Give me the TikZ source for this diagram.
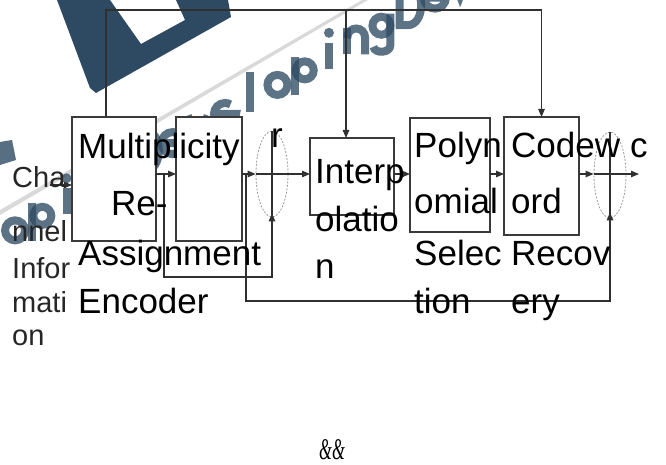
\documentclass[tikz,border=0pt]{standalone}
\usepackage{fontspec}
\setmainfont{Liberation Sans}
\newfontfamily\amperfont{Liberation Serif}
\usetikzlibrary{shapes.geometric,arrows.meta}
\definecolor{ln}{HTML}{303030}
\definecolor{bx}{HTML}{3A3A3A}
\definecolor{wm}{HTML}{2E4A63}
\definecolor{el}{HTML}{9A9A9A}
\tikzset{
  wmstroke/.style={draw=wm,line width=8pt,opacity=0.78},
  wlE/.pic={\draw[wmstroke] (3,-13) -- (24,-13) arc[start angle=0,end angle=300,radius=11];},
  wlL/.pic={\draw[wmstroke] (12,0) -- (12,-40);},
  wlO/.pic={\draw[wmstroke] (13,-13) circle[radius=10];},
  wlP/.pic={\draw[wmstroke] (4,12) -- (4,-26); \draw[wmstroke] (14,-13) circle[radius=9];},
  wlI/.pic={\draw[wmstroke] (12,0) -- (12,-26); \fill[wm,opacity=0.78] (12,-36) circle[radius=5];},
  wlN/.pic={\draw[wmstroke] (4,0) -- (4,-26); \draw[wmstroke] (4,-16) .. controls (4,-29) and (22,-29) .. (22,-16) -- (22,0);},
  wlG/.pic={\draw[wmstroke] (12,-14) circle[radius=9]; \draw[wmstroke] (21,-26) -- (21,5) .. controls (21,14) and (5,14) .. (4,7);},
  wlV/.pic={\draw[wmstroke] (2,-26) -- (12,0) -- (22,-26);},
  wlD/.pic={\draw[wmstroke] (4,0) -- (4,-40) -- (12,-40) .. controls (30,-40) and (30,0) .. (12,0) -- cycle;},
}
\begin{document}
\begin{tikzpicture}[x=1pt,y=-1pt,
  box/.style={draw=bx,fill=white,line width=1.3pt,anchor=north west,inner sep=0pt,outer sep=0pt},
  conn/.style={draw=ln,line width=1.2pt},
  arr/.style={conn,-{Triangle[length=8pt,width=6.5pt]}},
  sumel/.style={ellipse,draw=el,line width=0.8pt,dash pattern=on 2pt off 1.5pt,minimum width=32pt,minimum height=86pt,inner sep=0pt},
  big/.style={anchor=base west,inner sep=0pt,font=\fontsize{35pt}{35pt}\selectfont,text=black},
  small/.style={anchor=base west,inner sep=0pt,font=\fontsize{29pt}{29pt}\selectfont,text=black!85},
]
\useasboundingbox (0,0) rectangle (666,465);
% watermark
\begin{scope}
\clip (0,0) rectangle (666,465);
\fill[gray!30] (0,210) -- (362,0) -- (368,0) -- (0,215) -- cycle;
\fill[wm,even odd rule] (57,0) -- (228,0) -- (231,17) -- (96,93) -- (90,88) -- cycle
  (110,0) -- (176,0) -- (185,20) -- (141,44) -- cycle;
\fill[wm,opacity=0.8] (0,142) -- (12,140) -- (16,160) -- (0,165) -- cycle;
\begin{scope}[shift={(212,127)},rotate=29]
  \foreach \u/\l in {-240/O,-210/P,-180/I,-150/N,-120/G,-90/D,-60/E,-30/V,0/E,30/L,60/O,90/P,120/I,150/N,180/G,210/D,240/E,270/V}
    \pic at (\u,0) {wl\l};
\end{scope}
\end{scope}
% boxes
\node[box,minimum width=84pt,minimum height=124pt] (b1) at (72,117) {};
\node[box,minimum width=66pt,minimum height=124pt] (b2) at (176,117) {};
\node[box,minimum width=84pt,minimum height=77pt] (b3) at (310,138) {};
\node[box,minimum width=80pt,minimum height=114pt] (b4) at (410,118) {};
\node[box,minimum width=75pt,minimum height=118pt] (b5) at (504,117) {};
\node[sumel] (e1) at (272,174) {};
\node[sumel] (e2) at (610,175) {};
% coordinates
\coordinate (top) at (0,10);
\coordinate (in) at (50,185);
\coordinate (l1a) at (164,174);
\coordinate (l1b) at (164,277);
\coordinate (l2a) at (246,174);
\coordinate (l2b) at (246,301);
\coordinate (out) at (639,174);
% connectors
\draw[arr] ([xshift=-8pt]b1.north) |- (top -| b5.north) -- (b5.north);
\draw[arr] ([xshift=-6pt]b3.north |- top) -- ([xshift=-6pt]b3.north);
\draw[arr] (in) -- (in -| b1.west);
\draw[arr] (b1.east |- e1) -- (b2.west |- e1);
\draw[arr] (b2.east |- e1) -- (e1.west);
\draw[arr] (e1.west) -- (b3.west |- e1);
\draw[arr] (b3.east |- e1) -- (b4.west |- e1);
\draw[arr] (b4.east |- e1) -- (b5.west |- e1);
\draw[arr] (b5.east |- e1) -- (e2.west |- e1);
\draw[arr] (e2.west |- e1) -- (out);
\draw[conn] (e1.north) -- (e1.south);
\draw[conn] (e2.north) -- (e2.south);
\draw[arr] (l1a) -- (l1b) -| ([yshift=4pt]e1.south);
\draw[arr] (l2a) -- (l2b) -| ([yshift=6pt]e2.south);
% texts
\node[big] (t1a) at (78,159) {Multiplicity};
\node[big] (t1b) at (111,215) {Re-};
\node[big] (t1c) at (78,265) {Assignment};
\node[big] (t1d) at (78,313) {Encoder};
\node[big] (t3a) at (315,184) {Interp};
\node[big] (t3b) at (315,231) {olatio};
\node[big] (t3c) at (315,278) {n};
\node[big] (t4a) at (414,158) {Polyn};
\node[big] (t4b) at (414,213) {omial};
\node[big] (t4c) at (414,265) {Selec};
\node[big] (t4d) at (414,313) {tion};
\node[big] (t5a) at (511,158) {Codew};
\node[big] (t5b) at (511,213) {ord};
\node[big] (t5c) at (511,265) {Recov};
\node[big] (t5d) at (511,313) {ery};
\node[big] (lc) at (630,158) {c};
\node[big] (lr) at (271,148) {r};
\node[small] (c1) at (12,188) {Cha};
\node[small] (c2) at (12,241) {nnel};
\node[small] (c3) at (12,278) {Infor};
\node[small] (c4) at (12,312) {mati};
\node[small] (c5) at (12,345) {on};
\node[anchor=base,inner sep=0pt,xscale=0.55,font=\amperfont\itshape\fontsize{30pt}{30pt}\selectfont] (amp) at (332,459) {\&\&};
\end{tikzpicture}
\end{document}
